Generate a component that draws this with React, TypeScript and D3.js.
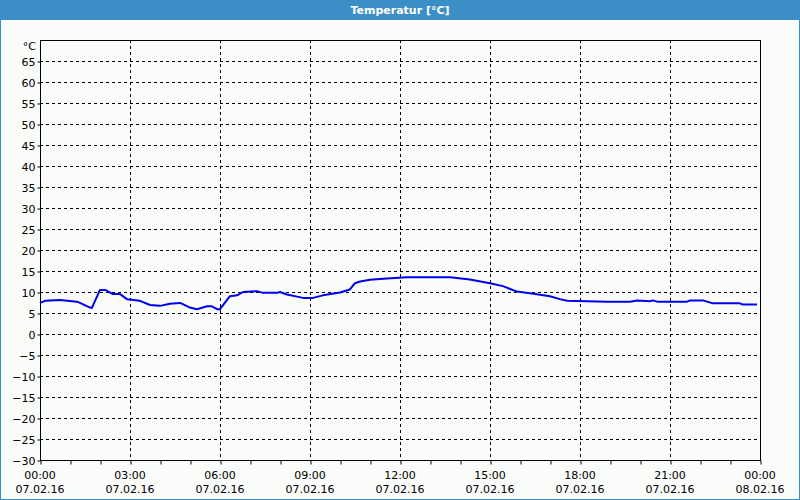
import React, { useRef, useEffect } from "react";
import * as d3 from "d3";

// hours since 07.02.16 00:00
const hours = [
  0, 0.17, 0.67, 1.23, 1.33, 1.67, 1.73, 2.0, 2.17, 2.43, 2.67, 2.9, 3.33, 3.67,
  4.0, 4.33, 4.67, 5.0, 5.23, 5.57, 5.73, 5.9, 6.0, 6.33, 6.57, 6.77, 7.23, 7.43,
  7.9, 8.0, 8.23, 8.57, 8.77, 9.1, 9.43, 10.0, 10.33, 10.5, 10.67, 11.0, 11.57,
  12.23, 13.67, 14.33, 15.0, 15.43, 15.9, 16.33, 17.0, 17.33, 17.57, 18.9, 19.67,
  19.9, 20.33, 20.43, 20.57, 21.57, 21.67, 22.1, 22.43, 23.33, 23.43, 23.9,
];
const temps = [
  7.4, 7.9, 8.1, 7.7, 7.4, 6.3, 6.2, 10.5, 10.5, 9.5, 9.5, 8.3, 7.9, 6.9,
  6.7, 7.2, 7.4, 6.3, 5.9, 6.6, 6.6, 5.9, 5.9, 9.0, 9.2, 10.0, 10.2, 9.8,
  9.8, 10.0, 9.4, 8.9, 8.6, 8.6, 9.2, 9.9, 10.6, 12.1, 12.5, 12.9, 13.2,
  13.5, 13.5, 13.0, 12.1, 11.4, 10.1, 9.7, 9.0, 8.3, 7.9, 7.7, 7.7,
  8.0, 7.8, 8.0, 7.7, 7.7, 8.0, 8.0, 7.3, 7.3, 7.0, 7.0,
];
const yTicks = d3.range(-30, 70, 5);
const xTickHours = d3.range(0, 25, 3);
const xTimeLabels = ["00:00", "03:00", "06:00", "09:00", "12:00", "15:00", "18:00", "21:00", "00:00"];
const xDateLabels = ["07.02.16", "07.02.16", "07.02.16", "07.02.16", "07.02.16", "07.02.16", "07.02.16", "07.02.16", "08.02.16"];
const title = "Temperatur [°C]";
const unit = "°C";

export default function App() {
  const ref = useRef<HTMLDivElement>(null);

  useEffect(() => {
    const width = 800;
    const height = 500;
    const margin = { top: 40, right: 40, bottom: 40, left: 40 };
    const font = "Tahoma, 'DejaVu Sans', sans-serif";

    d3.select(ref.current).selectAll("*").remove();
    const svg = d3
      .select(ref.current)
      .append("svg")
      .attr("width", width)
      .attr("height", height)
      .style("position", "absolute")
      .style("left", "0px")
      .style("top", "0px")
      .style("font-family", font)
      .style("font-size", "11px");

    // background + outer blue frame
    svg
      .append("rect")
      .attr("x", 0.5)
      .attr("y", 0.5)
      .attr("width", width - 1)
      .attr("height", height - 1)
      .attr("fill", "#fafcfa")
      .attr("stroke", "#3c8fc6");

    // title bar
    svg
      .append("rect")
      .attr("x", 0)
      .attr("y", 0)
      .attr("width", width)
      .attr("height", 20)
      .attr("fill", "#3c8fc6");
    svg
      .append("text")
      .attr("x", width / 2)
      .attr("y", 14)
      .attr("text-anchor", "middle")
      .attr("fill", "#fff")
      .style("font-weight", "bold")
      .text(title);

    const x = d3.scaleLinear().domain([0, 24]).range([margin.left, width - margin.right]);
    const y = d3.scaleLinear().domain([-30, 70]).range([height - margin.bottom, margin.top]);

    // grid
    const grid = svg.append("g").attr("stroke", "#000").attr("stroke-dasharray", "3,3");
    grid
      .selectAll("line.h")
      .data(yTicks.filter((d) => d > -30))
      .join("line")
      .attr("x1", x(0))
      .attr("x2", x(24))
      .attr("y1", (d) => Math.round(y(d)) + 0.5)
      .attr("y2", (d) => Math.round(y(d)) + 0.5);
    grid
      .selectAll("line.v")
      .data(xTickHours.filter((d) => d > 0 && d < 24))
      .join("line")
      .attr("x1", (d) => Math.round(x(d)) + 0.5)
      .attr("x2", (d) => Math.round(x(d)) + 0.5)
      .attr("y1", y(70))
      .attr("y2", y(-30));

    // frame
    svg
      .append("rect")
      .attr("x", x(0) + 0.5)
      .attr("y", y(70) + 0.5)
      .attr("width", x(24) - x(0))
      .attr("height", y(-30) - y(70))
      .attr("fill", "none")
      .attr("stroke", "#000");

    // y axis
    const yAxis = svg
      .append("g")
      .attr("transform", `translate(${x(0) + 0.5},0.5)`)
      .call(d3.axisLeft(y).tickValues(yTicks).tickSize(3).tickPadding(2));
    yAxis.select(".domain").remove();
    yAxis.selectAll("text").attr("fill", "#000").style("font-family", font).style("font-size", "11px");

    svg
      .append("text")
      .attr("x", x(0) - 4)
      .attr("y", y(70) + 10)
      .attr("text-anchor", "end")
      .text(unit);

    // x axis: hourly minor ticks, labelled every 3h
    const xAxis = svg
      .append("g")
      .attr("transform", `translate(0.5,${y(-30) + 0.5})`)
      .call(
        d3
          .axisBottom(x)
          .tickValues(d3.range(0, 25, 1))
          .tickSize(4)
          .tickFormat(() => "")
      );
    xAxis.select(".domain").remove();

    const labels = svg.append("g").attr("text-anchor", "middle");
    labels
      .selectAll("text.t")
      .data(xTickHours)
      .join("text")
      .attr("x", (d) => x(d))
      .attr("y", y(-30) + 19)
      .text((d, i) => xTimeLabels[i]);
    labels
      .selectAll("text.d")
      .data(xTickHours)
      .join("text")
      .attr("class", "d")
      .attr("x", (d) => x(d))
      .attr("y", y(-30) + 33)
      .text((d, i) => xDateLabels[i]);

    // temperature line
    const line = d3
      .line<number>()
      .x((d, i) => x(hours[i]))
      .y((d) => y(d));
    svg
      .append("path")
      .datum(temps)
      .attr("fill", "none")
      .attr("stroke", "#0000ee")
      .attr("stroke-width", 2)
      .attr("stroke-linejoin", "round")
      .attr("d", line);
  }, []);

  return <div ref={ref}></div>;
}
